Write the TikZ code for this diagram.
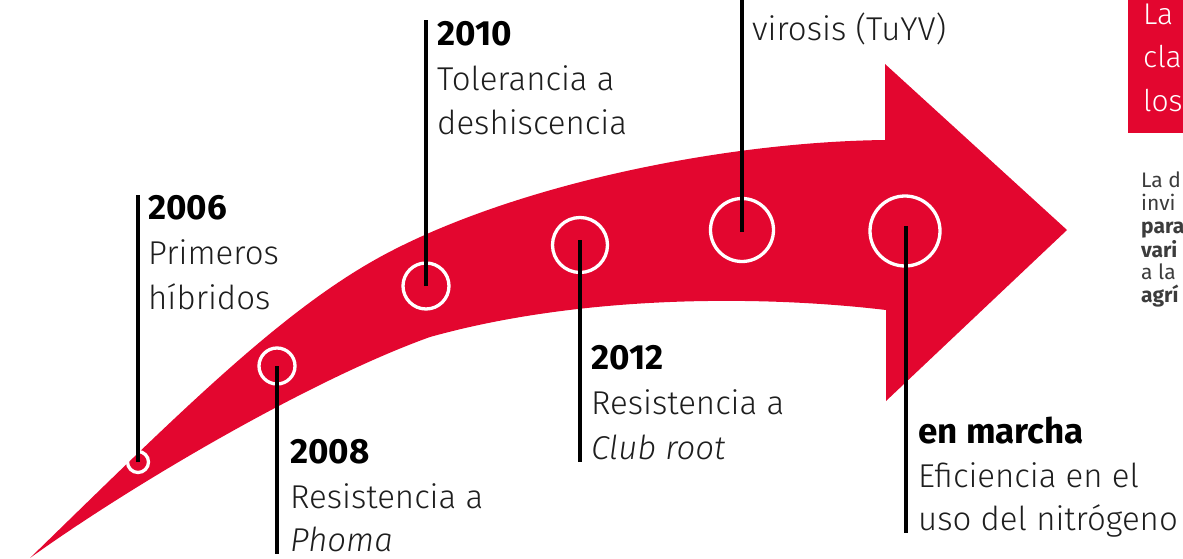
\documentclass[tikz,border=0pt]{standalone}
\usepackage{fontspec}
\setmainfont{Fira Sans Light}[BoldFont={Fira Sans Bold}, ItalicFont={Fira Sans Light Italic}, BoldItalicFont={Fira Sans Bold Italic}]
\newfontfamily\sidefont{Fira Sans}
\definecolor{arrowred}{RGB}{227,6,47}
\definecolor{inkgray}{RGB}{30,30,30}
\definecolor{sidegray}{RGB}{60,60,60}
\begin{document}
\begin{tikzpicture}[x=1pt,y=-1pt,
  ring/.style={circle, draw=white, line width=3.3pt, inner sep=0pt, outer sep=0pt},
  stem/.style={line width=4pt, draw=black},
  yeartext/.style={anchor=base west, inner sep=0pt, font=\fontsize{35}{40}\selectfont\bfseries, text=black},
  bodytext/.style={anchor=base west, inner sep=0pt, font=\fontsize{33}{40}\selectfont, text=inkgray},
  boxtext/.style={anchor=base west, inner sep=0pt, font=\fontsize{30}{36}\selectfont, text=white},
  sidetext/.style={anchor=base west, inner sep=0pt, font=\sidefont\fontsize{21}{23}\selectfont, text=sidegray},
  sidebold/.style={sidetext, font=\sidefont\fontsize{21}{23}\selectfont\bfseries},
]
\useasboundingbox (0,0) rectangle (1183,559);
\clip (0,0) rectangle (1183,559);

% arrow
\fill[arrowred] (30,558) .. controls (180,412) and (280,312) .. (380,257)
  .. controls (510,186) and (720,142) .. (885,140)
  -- (885,64) -- (1067,230) -- (886,401) -- (886,310)
  .. controls (760,295) and (580,295) .. (430,337)
  .. controls (310,380) and (130,486) .. (30,558) -- cycle;

% rings
\node[ring, minimum size=21pt] (c1) at (138,462) {};
\node[ring, minimum size=36pt] (c2) at (277,366) {};
\node[ring, minimum size=46pt] (c3) at (426,286) {};
\node[ring, minimum size=55pt] (c4) at (580,245) {};
\node[ring, minimum size=63pt] (c5) at (742,230) {};
\node[ring, minimum size=70pt] (c6) at (905,231) {};

% stem ends
\coordinate (e1) at (138,195);
\coordinate (e2) at (277,554);
\coordinate (e3) at (426,20);
\coordinate (e4) at (580,462);
\coordinate (e5) at (742,-5);
\coordinate (e6) at (906,533);

\draw[stem] (c1.center) -- (e1);
\draw[stem] (c2.center) -- (e2);
\draw[stem] (c3.center) -- (e3);
\draw[stem] ([yshift=5pt]c4.center) -- (e4);
\draw[stem] ([yshift=-2pt]c5.center) -- (e5);
\draw[stem] ([xshift=1pt,yshift=5pt]c6.center) -- (e6);

% 2006
\node[yeartext] (y1) at (148,219) {2006};
\node[bodytext] (y1a) at (148,264) {Primeros};
\node[bodytext] (y1b) at (148,309) {híbridos};
% 2008
\node[yeartext] (y2) at (290,463) {2008};
\node[bodytext] (y2a) at (290,508) {Resistencia a};
\node[bodytext] (y2b) at (290,551) {\itshape Phoma};
% 2010
\node[yeartext] (y3) at (437,46) {2010};
\node[bodytext] (y3a) at (437,91) {Tolerancia a};
\node[bodytext] (y3b) at (437,135) {deshiscencia};
% 2012
\node[yeartext] (y4) at (591,369) {2012};
\node[bodytext] (y4a) at (591,414) {Resistencia a};
\node[bodytext] (y4b) at (591,459) {\itshape Club root};
% virosis
\node[bodytext] (y5a) at (752,41) {virosis (TuYV)};
% en marcha
\node[yeartext] (y6) at (918,443) {en marcha};
\node[bodytext] (y6a) at (918,487) {Eficiencia en el};
\node[bodytext] (y6b) at (918,530) {uso del nitrógeno};

% red box
\fill[arrowred] (1128,0) rectangle (1190,133);
\node[boxtext] (b1) at (1143,25) {La};
\node[boxtext] (b2) at (1143,68) {cla};
\node[boxtext] (b3) at (1143,112) {los};

% side text
\node[sidetext] (s1) at (1141,187) {La d};
\node[sidetext] (s2) at (1141,210) {invi};
\node[sidebold] (s3) at (1141,233) {para};
\node[sidebold] (s4) at (1141,257) {vari};
\node[sidetext] (s5) at (1141,279) {a la};
\node[sidebold] (s6) at (1141,302) {agrí};
\end{tikzpicture}
\end{document}
